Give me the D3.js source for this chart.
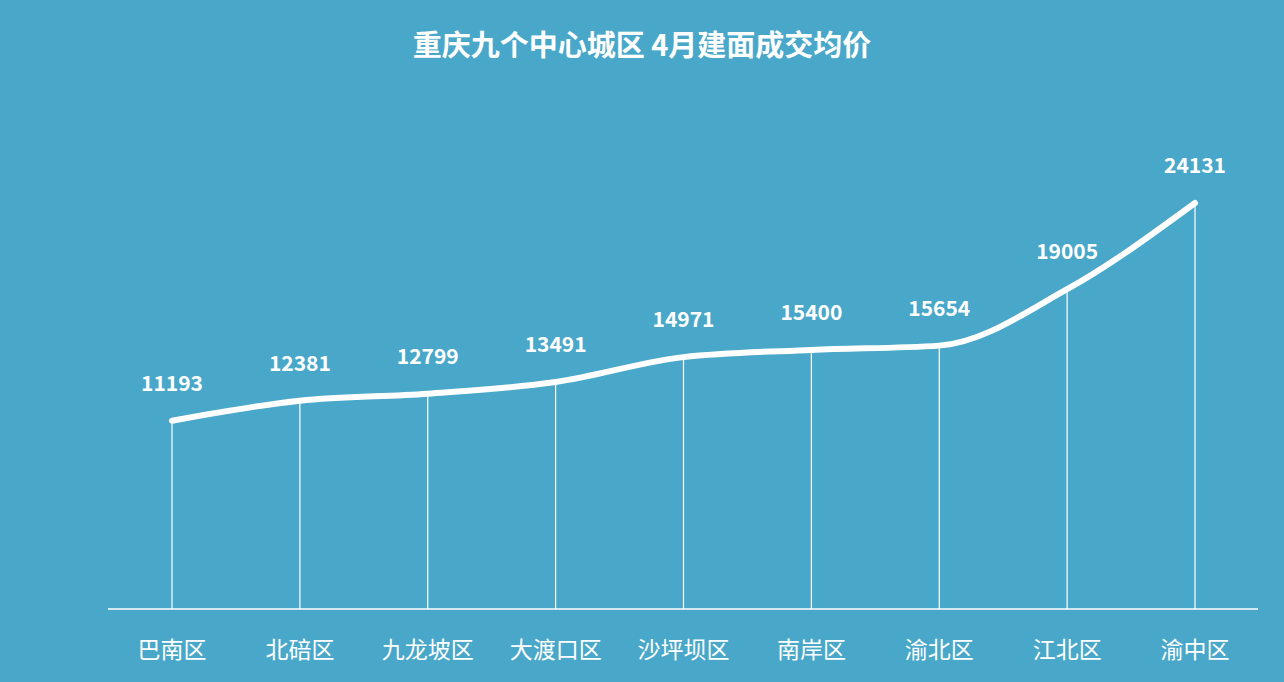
<!DOCTYPE html>
<html><head><meta charset="utf-8">
<script src="https://cdn.jsdelivr.net/npm/d3@7"></script>
<style>body{margin:0;background:#49a8c9;}svg{display:block;}</style>
</head><body>
<script>
const categories = ["巴南区","北碚区","九龙坡区","大渡口区","沙坪坝区","南岸区","渝北区","江北区","渝中区"];
const prices = [11193,12381,12799,13491,14971,15400,15654,19005,24131];
const title = "重庆九个中心城区 4月建面成交均价";

const W = 1284, H = 682;
const font = "'Noto Sans CJK SC','Noto Sans',sans-serif";
const svg = d3.select("body").append("svg").attr("width", W).attr("height", H);
svg.append("rect").attr("width", W).attr("height", H).attr("fill", "#49a8c9");

const x = d3.scalePoint().domain(categories).range([172, 1195]);
const y = d3.scaleLinear().domain([0, 24131]).range([609, 203]);

svg.append("text").attr("x", 642).attr("y", 56).attr("text-anchor", "middle")
  .attr("fill", "#fff").attr("font-family", font).attr("font-weight", "bold")
  .attr("font-size", 29).text(title);

// baseline
svg.append("line").attr("x1", 108).attr("x2", 1258).attr("y1", 609).attr("y2", 609)
  .attr("stroke", "#fff").attr("stroke-width", 1.5);

const data = categories.map((c, i) => ({c: c, v: prices[i]}));

svg.append("g").selectAll("line").data(data).enter().append("line")
  .attr("x1", d => x(d.c)).attr("x2", d => x(d.c))
  .attr("y1", d => y(d.v)).attr("y2", 609)
  .attr("stroke", "#fff").attr("stroke-width", 1.2);

const line = d3.line().x(d => x(d.c)).y(d => y(d.v)).curve(d3.curveMonotoneX);
svg.append("path").datum(data).attr("d", line).attr("fill", "none")
  .attr("stroke", "#fff").attr("stroke-width", 6).attr("stroke-linecap", "round");

svg.append("g").selectAll("text").data(data).enter().append("text")
  .attr("x", d => x(d.c)).attr("y", d => y(d.v) - 30)
  .attr("text-anchor", "middle").attr("fill", "#fff").attr("font-family", font)
  .attr("font-weight", "bold").attr("font-size", 21).text(d => d.v);

svg.append("g").selectAll("text").data(categories).enter().append("text")
  .attr("x", d => x(d)).attr("y", 658)
  .attr("text-anchor", "middle").attr("fill", "#fff").attr("font-family", font)
  .attr("font-size", 23).text(d => d);
</script>
</body></html>
